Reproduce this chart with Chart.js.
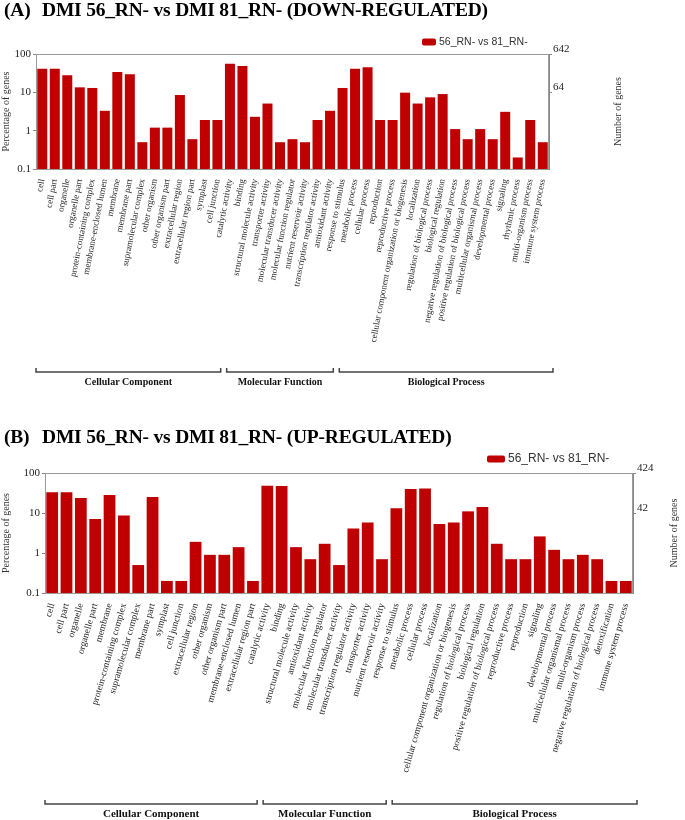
<!DOCTYPE html>
<html>
<head>
<meta charset="utf-8">
<script src="https://cdn.jsdelivr.net/npm/chart.js@4.4.0/dist/chart.umd.min.js"></script>
<style>
  body { margin:0; background:#fff; width:685px; height:820px; position:relative; overflow:hidden; }
  .box { position:absolute; left:0; width:685px; height:400px; }
  .ttl { position:absolute; left:4px; font: bold 19.5px 'Liberation Serif', serif; color:#000; white-space:nowrap; line-height:20px; letter-spacing:-0.2px; }
  .ttl span { position:absolute; left:38px; top:0; }
</style>
</head>
<body>
<div class="box" style="top:0"><canvas id="chartDown" width="685" height="400"></canvas></div>
<div class="box" style="top:420px"><canvas id="chartUp" width="685" height="400"></canvas></div>
<div class="ttl" style="top:0">(A)<span>DMI 56_RN- vs DMI 81_RN- (DOWN-REGULATED)</span></div>
<div class="ttl" style="top:427px">(B)<span>DMI 56_RN- vs DMI 81_RN- (UP-REGULATED)</span></div>
<script>
const seriesName = "56_RN- vs 81_RN-";
const groupNames = ["Cellular Component", "Molecular Function", "Biological Process"];
const groupSizes = [15, 9, 17];
const pctTicks = [0.1, 1, 10, 100];

// (A) down-regulated
const downCats = ["cell", "cell part", "organelle", "organelle part", "protein-containing complex",
  "membrane-enclosed lumen", "membrane", "membrane part", "supramolecular complex", "other organism",
  "other organism part", "extracellular region", "extracellular region part", "symplast", "cell junction",
  "catalytic activity", "binding", "structural molecule activity", "transporter activity",
  "molecular transducer activity", "molecular function regulator", "nutrient reservoir activity",
  "transcription regulator activity", "antioxidant activity",
  "response to stimulus", "metabolic process", "cellular process", "reproduction", "reproductive process",
  "cellular component organization or biogenesis", "localization", "regulation of biological process",
  "biological regulation", "negative regulation of biological process", "positive regulation of biological process",
  "multicellular organismal process", "developmental process", "signaling", "rhythmic process",
  "multi-organism process", "immune system process"];
const downPct = [41, 41, 28, 13.5, 13, 3.3, 34, 29.5, 0.5, 1.2, 1.2, 8.5, 0.6, 1.9, 1.9,
  56, 48.6, 2.3, 5.1, 0.5, 0.6, 0.5, 1.9, 3.3,
  13, 41, 45, 1.9, 1.9, 9.8, 5.1, 7.4, 9, 1.1, 0.6, 1.1, 0.6, 3.1, 0.2, 1.9, 0.5];
const downGeneTicks = [64, 642];
const downTotal = 642;

// (B) up-regulated
const upCats = ["cell", "cell part", "organelle", "organelle part", "membrane", "protein-containing complex",
  "supramolecular complex", "membrane part", "symplast", "cell junction", "extracellular region",
  "other organism", "other organism part", "membrane-enclosed lumen", "extracellular region part",
  "catalytic activity", "binding", "structural molecule activity", "antioxidant activity",
  "molecular function regulator", "molecular transducer activity", "transcription regulator activity",
  "transporter activity", "nutrient reservoir activity",
  "response to stimulus", "metabolic process", "cellular process", "localization",
  "cellular component organization or biogenesis", "regulation of biological process", "biological regulation",
  "positive regulation of biological process", "reproductive process", "reproduction", "signaling",
  "developmental process", "multicellular organismal process", "multi-organism process",
  "negative regulation of biological process", "detoxification", "immune system process"];
const upPct = [33, 33, 23.7, 7.1, 28, 8.6, 0.5, 25, 0.2, 0.2, 1.9, 0.9, 0.9, 1.4, 0.2,
  48, 47, 1.4, 0.7, 1.7, 0.5, 4.1, 5.8, 0.7,
  13.1, 39.8, 41, 5.3, 5.8, 11, 14.1, 1.7, 0.7, 0.7, 2.6, 1.2, 0.7, 0.9, 0.7, 0.2, 0.2];
const upGeneTicks = [42, 424];
const upTotal = 424;

const serif = "'Liberation Serif', 'DejaVu Serif', serif";
const sans = "'Liberation Sans', Arial, sans-serif";
const red = '#c00000';

function decorPlugin(g) {
  return {
    id: 'decor',
    afterDraw(chart) {
      const c = chart.ctx, a = chart.chartArea, x = chart.scales.x;
      c.save();
      // frame
      c.strokeStyle = '#9a9a9a';
      c.lineWidth = 1;
      c.strokeRect(a.left + 0.5, a.top + 0.5, a.right - a.left - 1, a.bottom - a.top);
      // legend
      c.fillStyle = red;
      c.beginPath();
      c.roundRect(g.legX, g.legY - g.legH / 2, g.legW, g.legH, 2);
      c.fill();
      c.fillStyle = '#333';
      c.font = g.legFont + 'px ' + sans;
      c.textBaseline = 'middle';
      c.textAlign = 'left';
      c.fillText(seriesName, g.legX + g.legW + 3, g.legY);
      // right axis title
      c.save();
      c.translate(g.rtX, (a.top + a.bottom) / 2);
      c.rotate(-Math.PI / 2);
      c.font = '10px ' + serif;
      c.textAlign = 'center';
      c.fillStyle = '#333';
      c.fillText('Number of genes', 0, 0);
      c.restore();
      // group brackets
      const half = (x.getPixelForValue(1) - x.getPixelForValue(0)) / 2;
      let start = 0;
      c.strokeStyle = '#444';
      c.lineWidth = 1.5;
      c.fillStyle = '#111';
      c.font = 'bold ' + g.grpFont + 'px ' + serif;
      c.textAlign = 'center';
      c.textBaseline = 'middle';
      groupSizes.forEach((n, i) => {
        const end = start + n - 1;
        const x1 = x.getPixelForValue(start) - half + (i === 0 ? 0 : 3);
        const x2 = x.getPixelForValue(end) + half + (i === groupSizes.length - 1 ? 4 : -3);
        c.beginPath();
        c.moveTo(x1, g.brY - 4);
        c.lineTo(x1, g.brY);
        c.lineTo(x2, g.brY);
        c.lineTo(x2, g.brY - 4);
        c.stroke();
        c.fillText(groupNames[i], (x1 + x2) / 2, g.brY + 10);
        start = end + 1;
      });
      c.restore();
    }
  };
}

function makeChart(id, cats, pct, total, geneTicks, g) {
  return new Chart(document.getElementById(id), {
    type: 'bar',
    data: {
      labels: cats,
      datasets: [{
        label: seriesName,
        data: pct,
        backgroundColor: red,
        borderWidth: 0,
        barPercentage: g.barPct,
        categoryPercentage: 1,
        yAxisID: 'y'
      }]
    },
    options: {
      responsive: false,
      animation: false,
      layout: { padding: { top: g.top, left: 0, right: 0, bottom: 0 } },
      plugins: { legend: { display: false }, tooltip: { enabled: false } },
      scales: {
        x: {
          grid: { display: false },
          border: { display: false },
          ticks: {
            autoSkip: false, minRotation: g.rot, maxRotation: g.rot, padding: 1,
            font: { family: serif, size: g.xFont }, color: '#222'
          },
          afterFit(s) { s.height = g.xHeight; }
        },
        y: {
          type: 'logarithmic', min: 0.1, max: 100,
          afterBuildTicks(s) { s.ticks = pctTicks.map(v => ({ value: v })); },
          ticks: { callback: v => String(v), font: { family: serif, size: 11 }, color: '#222', padding: 2 },
          grid: { drawOnChartArea: false, tickLength: 3, color: '#888' },
          border: { color: '#888' },
          title: { display: true, text: 'Percentage of genes', font: { family: serif, size: 10 }, color: '#333', padding: 0 },
          afterFit(s) { s.width = g.left; }
        },
        y2: {
          type: 'logarithmic', position: 'right', min: total / 1000, max: total,
          afterBuildTicks(s) { s.ticks = geneTicks.map(v => ({ value: v })); },
          ticks: { callback: v => String(v), font: { family: serif, size: 11 }, color: '#222', padding: 1, labelOffset: -5 },
          grid: { drawOnChartArea: false, tickLength: 3, color: '#888' },
          border: { color: '#888' },
          afterFit(s) { s.width = 685 - g.right; }
        }
      }
    },
    plugins: [decorPlugin(g)]
  });
}

makeChart('chartDown', downCats, downPct, downTotal, downGeneTicks, {
  left: 36, right: 549, top: 54, xHeight: 231, rot: 79, xFont: 9, barPct: 0.8,
  legX: 422, legY: 42, legW: 14, legH: 7, legFont: 10.5, rtX: 618, brY: 372, grpFont: 10
});
makeChart('chartUp', upCats, upPct, upTotal, upGeneTicks, {
  left: 45, right: 633, top: 53, xHeight: 227, rot: 74, xFont: 9.5, barPct: 0.82,
  legX: 487, legY: 39, legW: 18, legH: 7, legFont: 12, rtX: 674, brY: 384, grpFont: 11
});
</script>
</body>
</html>
